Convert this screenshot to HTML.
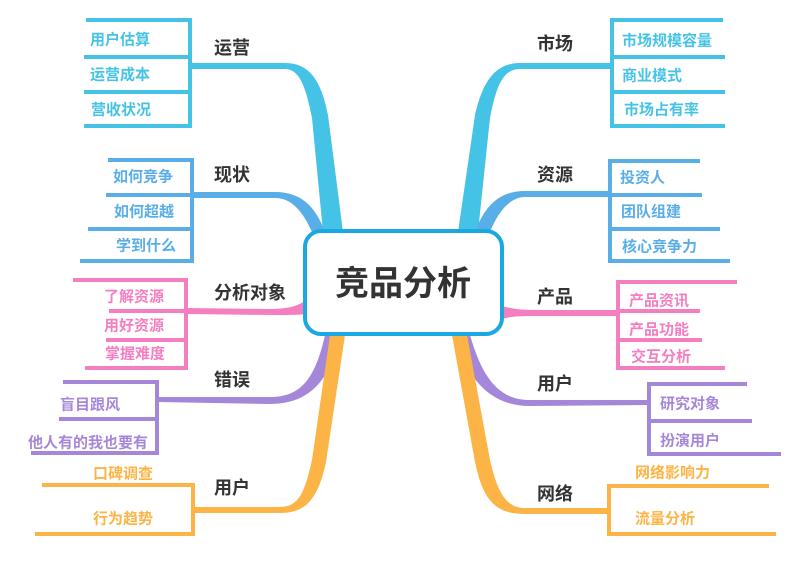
<!DOCTYPE html>
<html><head><meta charset="utf-8"><style>
html,body{margin:0;padding:0;background:#fff;width:800px;height:566px;overflow:hidden}
svg{display:block}
text{font-family:"Liberation Sans","Noto Sans CJK SC",sans-serif;font-weight:bold;dominant-baseline:central}
.l{font-size:18px;fill:#333}
</style></head><body>
<svg width="800" height="566" viewBox="0 0 800 566" xmlns="http://www.w3.org/2000/svg">
<g fill="none" stroke-width="4" stroke-linecap="butt">
<g stroke="#45c3e6"><path d="M86,20H190V126H84M84,57H190M84,92H190"/></g>
<g stroke="#5aaee8"><path d="M108,160H192V261H80M106,195H192M88,229H192"/></g>
<g stroke="#f57ec0"><path d="M73,280H186V368H85M109,311H186M106,340H186"/></g>
<g stroke="#a587d9"><path d="M63,382H157V453H31M59,419H157"/></g>
<g stroke="#fbb445"><path d="M42,485H193V534H35"/></g>
<g stroke="#45c3e6"><path d="M723,20H612V126H725M725,57H612M725,92H612"/></g>
<g stroke="#5aaee8"><path d="M700,161H610V261H730M702,195H610M720,229H610"/></g>
<g stroke="#f57ec0"><path d="M737,282H618V368H725M700,311H618M702,340H618"/></g>
<g stroke="#a587d9"><path d="M747,384H649V454H781M752,421H649"/></g>
<g stroke="#fbb445"><path d="M769,486H609V534H776"/></g>
</g>
<g>
<path fill="#45c3e6" d="M190,63 L285,63 C312,63 322,85 328,115 L343,232 L323,232 L312,118 C306,88 300,69 285,69 L190,69 Z"/>
<path fill="#5aaee8" d="M192,192 L275,192 C300,192 315,205 325,232 L312,232 C303,212 292,198 275,198 L192,198 Z"/>
<path fill="#f57ec0" d="M186,308 L270,309 C290,309 300,305 306,300 L306,314 C298,315 290,315 270,315 L186,314 Z"/>
<path fill="#a587d9" d="M157,397 L270,397 C300,397 315,380 325,335 L340,335 C330,385 305,404 270,404 L157,402 Z"/>
<path fill="#fbb445" d="M193,507 L280,507 C300,507 305,490 312,460 L330,335 L345,335 L326,462 C318,500 305,513 280,513 L193,513 Z"/>
<path fill="#45c3e6" d="M612,63 L520,63 C493,63 482,85 475,115 L458,232 L478,232 L490,118 C496,88 502,69 520,69 L612,69 Z"/>
<path fill="#5aaee8" d="M610,191 L525,191 C500,191 485,205 475,232 L490,232 C498,212 510,197 525,197 L610,197 Z"/>
<path fill="#f57ec0" d="M500,305 C510,309 520,310 540,310 L618,310 L618,316 L540,316 C520,316 510,316 500,320 Z"/>
<path fill="#a587d9" d="M649,400 L530,400 C500,400 483,380 470,335 L455,335 C468,385 495,406 530,406 L649,405 Z"/>
<path fill="#fbb445" d="M609,508 L525,508 C505,508 497,490 490,460 L467,335 L452,335 L475,462 C483,500 495,514 525,514 L609,514 Z"/>
</g>
<rect x="305" y="231" width="197" height="103" rx="16" fill="#fff" stroke="#1ba8e0" stroke-width="4"/>
<text x="403" y="284" text-anchor="middle" style="font-size:34px;fill:#333">竞品分析</text>

<text class="l" x="214" y="48">运营</text>
<text class="l" x="214" y="175">现状</text>
<text class="l" x="214" y="293">分析对象</text>
<text class="l" x="214" y="380">错误</text>
<text class="l" x="214" y="488">用户</text>
<text class="l" x="537" y="44">市场</text>
<text class="l" x="537" y="175">资源</text>
<text class="l" x="537" y="297">产品</text>
<text class="l" x="537" y="384">用户</text>
<text class="l" x="537" y="494">网络</text>

<g fill="#45c3e6" style="font-size:15px">
<text x="90" y="40">用户估算</text><text x="90" y="75">运营成本</text><text x="91" y="110">营收状况</text>
<text x="622" y="41">市场规模容量</text><text x="622" y="76">商业模式</text><text x="624" y="110">市场占有率</text>
</g>
<g fill="#5aaee8" style="font-size:15px">
<text x="113" y="177">如何竞争</text><text x="114" y="212">如何超越</text><text x="116" y="246">学到什么</text>
<text x="620" y="178">投资人</text><text x="621" y="212">团队组建</text><text x="622" y="247">核心竞争力</text>
</g>
<g fill="#f57ec0" style="font-size:15px">
<text x="104" y="297">了解资源</text><text x="104" y="326">用好资源</text><text x="105" y="354">掌握难度</text>
<text x="629" y="301">产品资讯</text><text x="629" y="330">产品功能</text><text x="631" y="357">交互分析</text>
</g>
<g fill="#a587d9" style="font-size:15px">
<text x="60" y="405">盲目跟风</text><text x="28" y="443">他人有的我也要有</text>
<text x="660" y="404">研究对象</text><text x="660" y="441">扮演用户</text>
</g>
<g fill="#fbb445" style="font-size:15px">
<text x="93" y="474">口碑调查</text><text x="93" y="519">行为趋势</text>
<text x="635" y="473">网络影响力</text><text x="635" y="519">流量分析</text>
</g>
</svg>
</body></html>
